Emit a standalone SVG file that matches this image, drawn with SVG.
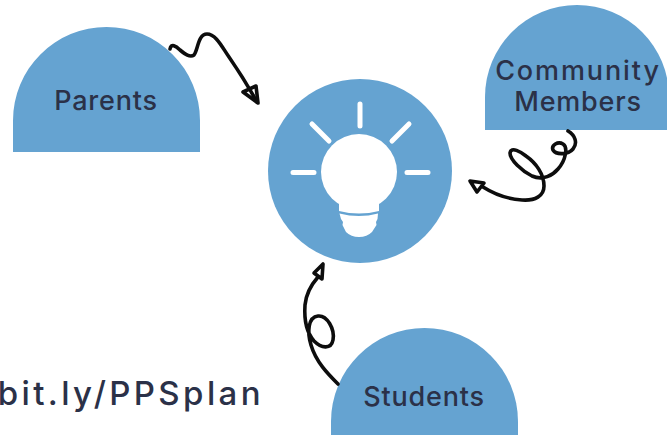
<svg xmlns="http://www.w3.org/2000/svg" width="667" height="435" viewBox="0 0 667 435">
<style>
.shape{fill:#65a3d1}
.label{font-family:"Inter","Liberation Sans",sans-serif;font-weight:500;fill:#2b3148;text-anchor:middle;font-size:27px;letter-spacing:.8px}
.conn{fill:none;stroke:#0d0d0d;stroke-width:3.6;stroke-linecap:round;stroke-linejoin:round}
.ray{fill:none;stroke:#fff;stroke-width:5;stroke-linecap:round}
</style>
<rect width="667" height="435" fill="#fff"/>
<g id="parents"><path class="shape" d="M13 152V120.500A93.500 93.500 0 0 1 200 120.500V152Z"/><text class="label" x="106" y="110">Parents</text></g>
<g id="community"><path class="shape" d="M485 130V97A92 92 0 0 1 669 97V130Z"/><text class="label" x="578" y="80" style="letter-spacing:1.9px">Community</text><text class="label" x="578" y="111">Members</text></g>
<g id="students"><path class="shape" d="M331 435V421.500A93.500 93.500 0 0 1 518 421.500V435Z"/><text class="label" x="424" y="406">Students</text></g>
<g id="idea">
<circle class="shape" cx="360" cy="171" r="92"/>
<circle cx="359" cy="172" r="38" fill="#fff"/>
<path fill="#fff" d="M339 198H379V211Q359 216 339 211Z"/>
<path fill="#fff" d="M339.500 213.500Q359 218.500 378 213.500L377.500 219L376 222L376.500 225L372 232Q367 237 359 237Q351 237 346 232L342.500 225L343 222L341 219Z"/>
<path class="ray" d="M360 104V126M293 172.500H314M407 172.500H428M312 124L329 141M409 124L392 141"/>
</g>
<g id="connectors">
<path class="conn" d="M170 49C171 43 176 46 180 50C185 54 190 58 194 55C198 50 198 34 207 34C216 34 222 47 229 57C238 70 248 86 257 102"/>
<path class="conn" d="M243 92L256 86L258 103Z"/>
<path class="conn" d="M568 131C575 135 578 143 573 149C568 155 556 155 553 150C551 145 558 141 563 144C568 147 566 160 558 169C553 175 543 181 532 176C522 171 510 160 510 153C511 146 521 152 526 156C536 163 544 174 544 186C544 196 535 201 522 200C508 199 494 194 483 187"/>
<path class="conn" d="M470 181L484 183L477 192Z"/>
<path class="conn" d="M338 384C328 374 316 362 311 345C307 332 308 317 318 316C327 315 335 329 333 340C331 350 321 348 314 341C307 333 304 320 305 305C306 294 311 285 318 277"/>
<path class="conn" d="M314 273L323 264L322 279Z"/>
</g>
<text id="url" x="264" y="405" text-anchor="end" font-family="Inter,'Liberation Sans',sans-serif" font-size="33" font-weight="500" letter-spacing="3.400" fill="#2b3148">bit.ly/PPSplan</text>
</svg>
